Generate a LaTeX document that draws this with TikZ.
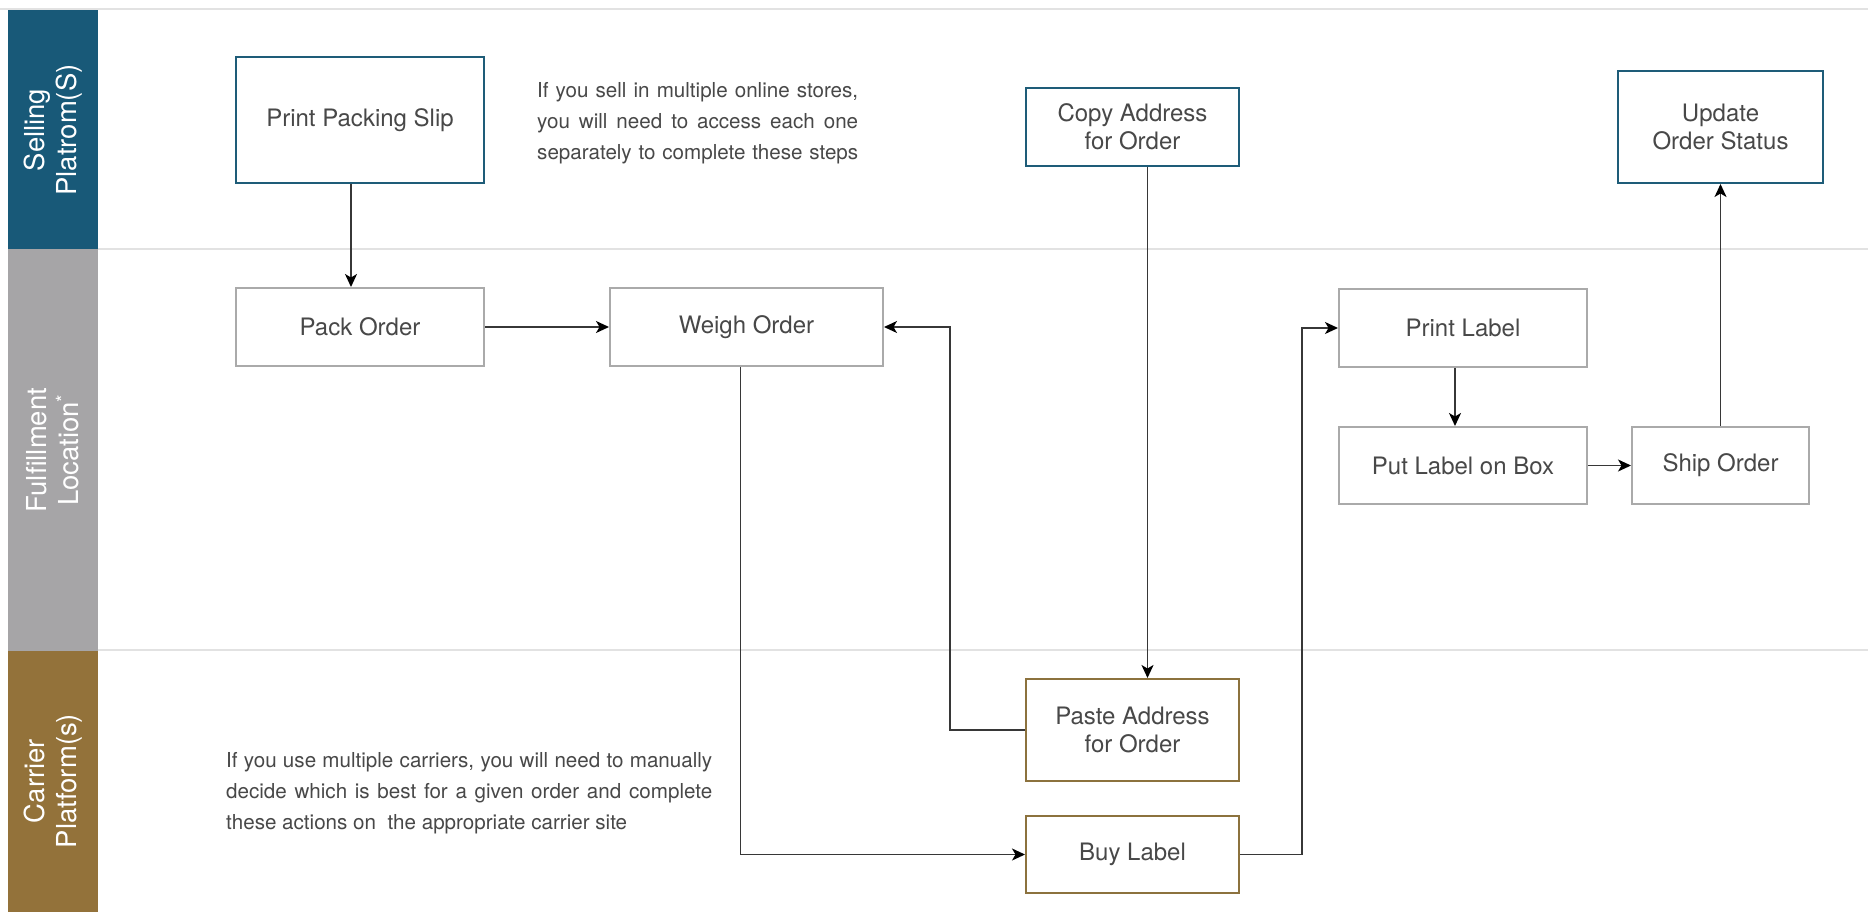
\documentclass[tikz,border=0pt]{standalone}
\usepackage{fontspec}
\setmainfont{TeX Gyre Heros}
\usetikzlibrary{arrows.meta}

\definecolor{laneblue}{RGB}{24,89,120}
\definecolor{lanegray}{RGB}{166,165,167}
\definecolor{lanebrown}{RGB}{147,114,58}
\definecolor{rulegray}{RGB}{226,226,226}
\definecolor{txt}{RGB}{72,72,72}
\definecolor{wirecol}{RGB}{55,55,55}
\definecolor{boxblue}{RGB}{30,92,120}
\definecolor{boxgray}{RGB}{170,170,170}
\definecolor{boxgold}{RGB}{140,114,62}

\begin{document}
\begin{tikzpicture}[x=1pt,y=-1pt,
  proc/.style={draw, line width=2pt, fill=white, text=txt, align=center,
    inner sep=0pt, font=\fontsize{24}{28}\selectfont},
  sell/.style={proc, draw=boxblue},
  ful/.style={proc, draw=boxgray},
  carr/.style={proc, draw=boxgold},
  wire/.style={draw=wirecol, line width=1.6pt,
    -{Stealth[length=13pt,width=12pt,inset=3.5pt,color=black]}},
  lanelabel/.style={rotate=90, text=white, align=center,
    font=\fontsize{27.5}{32}\selectfont},
  note/.style={text=txt, align=left, anchor=west, inner sep=0pt,
    font=\fontsize{20.6}{31}\selectfont},
  rule/.style={draw=rulegray, line width=2.5pt}]

% canvas
\useasboundingbox (0,0) rectangle (1871,912);
\fill[white] (0,0) rectangle (1871,912);

% swimlane headers
\fill[laneblue]  (8,10)  rectangle (98,249);
\fill[lanegray]  (8,249) rectangle (98,651);
\fill[lanebrown] (8,651) rectangle (98,912);

\node[lanelabel] (l1) at (53,130) {Selling\\Platrom(S)};
\node[lanelabel] (l2) at (53,450) {Fulfillment\\Location\textsuperscript{*}};
\node[lanelabel] (l3) at (53,781) {Carrier\\Platform(s)};

% lane separators
\coordinate (t0) at (0,9);     \coordinate (t1) at (1868,9);
\coordinate (d0) at (98,249);  \coordinate (d1) at (1868,249);
\coordinate (e0) at (98,650);  \coordinate (e1) at (1868,650);
\draw[rule] (t0) -- (t1);
\draw[rule] (d0) -- (d1);
\draw[rule] (e0) -- (e1);

% process steps
\node[sell, minimum width=248pt, minimum height=126pt] (pps)   at (360,120)    {Print Packing Slip};
\node[sell, minimum width=213pt, minimum height=78pt]  (copy)  at (1132.5,127) {Copy Address\\for Order};
\node[sell, minimum width=205pt, minimum height=112pt] (upd)   at (1720.5,127) {Update\\Order Status};

\node[ful, minimum width=248pt, minimum height=78pt]   (pack)  at (360,327)    {Pack Order};
\node[ful, minimum width=273pt, minimum height=78pt]   (weigh) at (746.5,327)  {Weigh Order};
\node[ful, minimum width=248pt, minimum height=78pt]   (plab)  at (1463,328)   {Print Label};
\node[ful, minimum width=248pt, minimum height=77pt]   (put)   at (1463,465.5) {Put Label on Box};
\node[ful, minimum width=177pt, minimum height=77pt]   (ship)  at (1720.5,465.5) {Ship Order};

\node[carr, minimum width=213pt, minimum height=102pt] (paste) at (1132.5,730) {Paste Address\\for Order};
\node[carr, minimum width=213pt, minimum height=77pt]  (buy)   at (1132.5,854.5) {Buy Label};

% remarks
\node[note] (n1) at (537,123) {%
  \makebox[321pt][s]{If you sell in multiple online stores,}\\
  \makebox[321pt][s]{you will need to access each one}\\
  \makebox[321pt][s]{separately to complete these steps}};
\node[note] (n2) at (226,793) {%
  \makebox[486pt][s]{If you use multiple carriers, you will need to manually}\\
  \makebox[486pt][s]{decide which is best for a given order and complete}\\
  these actions on\ \ the appropriate carrier site};

% routing points
\coordinate (rback) at (950,0);
\coordinate (rup)   at (1302,0);

% connectors
\draw[wire] ([xshift=-9pt]pps.south) -- ([xshift=-9pt]pack.north);
\draw[wire] (pack.east) -- (weigh.west);
\draw[wire] ([xshift=15pt]copy.south) -- ([xshift=15pt]paste.north);
\draw[wire] (paste.west) -- (paste.west -| rback) -- (rback |- weigh.east) -- (weigh.east);
\draw[wire] ([xshift=-6pt]weigh.south) |- (buy.west);
\draw[wire] (buy.east) -- (buy.east -| rup) |- (plab.west);
\draw[wire] ([xshift=-8pt]plab.south) -- ([xshift=-8pt]put.north);
\draw[wire] (put.east) -- (ship.west);
\draw[wire] (ship.north) -- (upd.south);

\end{tikzpicture}
\end{document}
